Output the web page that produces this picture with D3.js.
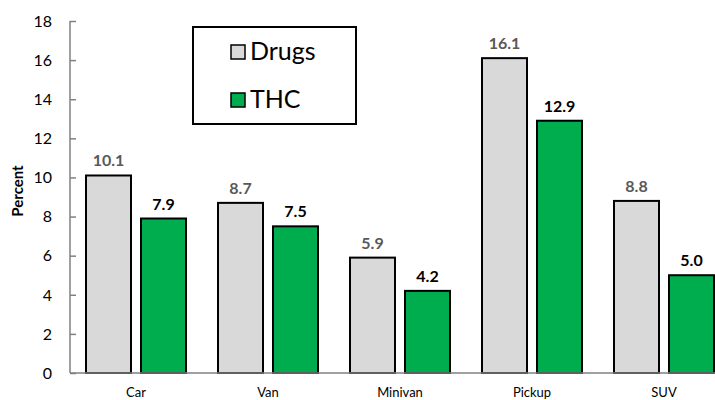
<!DOCTYPE html>
<html>
<head>
<meta charset="utf-8">
<script src="https://cdn.jsdelivr.net/npm/d3@7"></script>
<style>
  html, body { margin: 0; padding: 0; background: #fff; }
  svg { display: block; font-family: Lato, "Open Sans", sans-serif; }
</style>
</head>
<body>
<svg id="chart" width="715" height="400"></svg>
<script>
// Vehicle types and the share (percent) testing positive
const categories = ["Car", "Van", "Minivan", "Pickup", "SUV"];
const seriesNames = ["Drugs", "THC"];
const drugsValues = [10.1, 8.7, 5.9, 16.1, 8.8];
const thcValues = [7.9, 7.5, 4.2, 12.9, 5.0];
const yTicks = [0, 2, 4, 6, 8, 10, 12, 14, 16, 18];

const seriesValues = { Drugs: drugsValues, THC: thcValues };
const fills = { Drugs: "#d9d9d9", THC: "#00ad4e" };
const labelColors = { Drugs: "#595959", THC: "#000000" };

const svg = d3.select("#chart");

const x = d3.scaleBand().domain(categories).range([70, 730]).padding(0);
const bw = x.bandwidth();
const xInner = d3.scaleBand().domain(seriesNames)
  .range([bw * 16 / 132, bw * 116 / 132])
  .paddingInner(2 - 100 / 55).paddingOuter(0);
const y = d3.scaleLinear().domain([0, 18]).range([373, 21]);

// Y axis: gray line with inside ticks
const yAxis = svg.append("g").attr("transform", "translate(70,0)")
  .call(d3.axisRight(y).tickValues(yTicks).tickSize(6).tickFormat(""));
yAxis.select(".domain").attr("stroke", "#808080").attr("stroke-width", 1.5)
  .attr("d", `M0,${y(18)}V${y(0)}`);
yAxis.selectAll(".tick line").attr("stroke", "#808080").attr("stroke-width", 1.5);

svg.append("g").selectAll("text").data(yTicks).join("text")
  .attr("x", 52).attr("y", d => y(d)).attr("dy", "0.36em")
  .attr("text-anchor", "end").attr("font-size", 16).attr("fill", "#000")
  .text(d => d);

svg.append("text")
  .attr("transform", "translate(23,191) rotate(-90)")
  .attr("text-anchor", "middle").attr("font-size", 15).attr("font-weight", "bold")
  .text("Percent");

// Bars
const groups = svg.append("g").selectAll("g").data(categories).join("g")
  .attr("transform", d => `translate(${x(d)},0)`);

groups.selectAll("rect")
  .data((c, i) => seriesNames.map(s => ({ s, v: seriesValues[s][i] })))
  .join("rect")
  .attr("x", d => xInner(d.s))
  .attr("y", d => y(d.v))
  .attr("width", xInner.bandwidth())
  .attr("height", d => y(0) - y(d.v))
  .attr("fill", d => fills[d.s])
  .attr("stroke", "#000").attr("stroke-width", 2);

groups.selectAll("text.val")
  .data((c, i) => seriesNames.map(s => ({ s, v: seriesValues[s][i] })))
  .join("text").attr("class", "val")
  .attr("x", d => xInner(d.s) + xInner.bandwidth() / 2)
  .attr("y", d => y(d.v) - 9)
  .attr("text-anchor", "middle").attr("font-size", 16).attr("font-weight", "bold")
  .attr("fill", d => labelColors[d.s])
  .text(d => d.v.toFixed(1));

// X axis baseline and category labels
svg.append("line").attr("x1", 70).attr("x2", 715)
  .attr("y1", y(0)).attr("y2", y(0))
  .attr("stroke", "#808080").attr("stroke-width", 1.5);

svg.append("g").selectAll("text").data(categories).join("text")
  .attr("x", d => x(d) + bw / 2).attr("y", 397)
  .attr("text-anchor", "middle").attr("font-size", 13).attr("fill", "#000")
  .text(d => d);

// Legend
const legend = svg.append("g");
legend.append("rect").attr("x", 193).attr("y", 27).attr("width", 163).attr("height", 97)
  .attr("fill", "#fff").attr("stroke", "#000").attr("stroke-width", 2);
const legendRows = legend.selectAll("g").data(seriesNames).join("g")
  .attr("transform", (d, i) => `translate(0,${i * 48})`);
legendRows.append("rect").attr("x", 231).attr("y", 45).attr("width", 14).attr("height", 14)
  .attr("fill", d => fills[d]).attr("stroke", "#000").attr("stroke-width", 1.5);
legendRows.append("text").attr("x", 250).attr("y", 59.5)
  .attr("font-size", 25).attr("fill", "#000").text(d => d);
</script>
</body>
</html>
